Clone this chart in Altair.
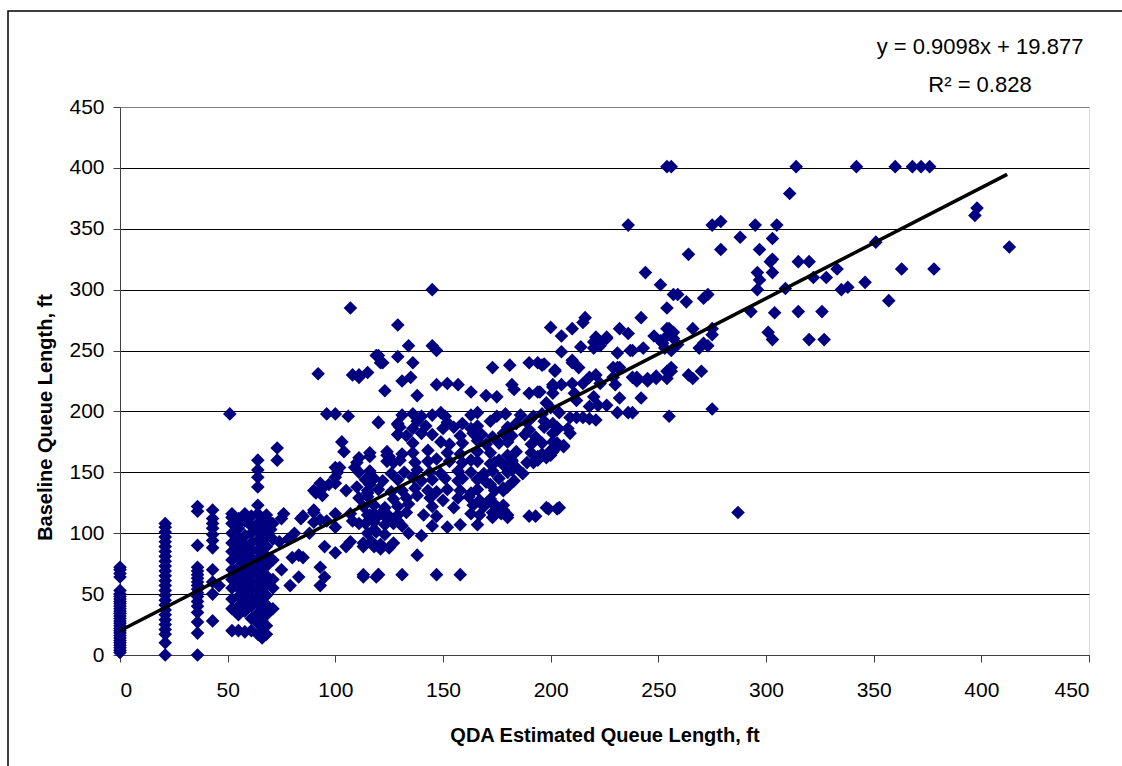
import altair as alt
import pandas as pd

# ---- data: QDA estimate (x) vs baseline queue length (y), feet ----

# vertical stacks: (QDA value, list of baseline values)
stacks = [
    (0, [2, 4, 6, 8, 10, 12, 14, 16, 18, 20, 22, 24, 26, 28, 30, 32, 34, 36, 38, 40,
         42, 44, 46, 48, 50, 53, 64, 67, 70, 72]),
    (21, [0, 10, 17, 21, 25, 29, 33, 37, 41, 45, 49, 53, 57, 61, 65, 69, 73, 77, 81,
          85, 89, 93, 97, 101, 105, 108]),
    (36, [0, 18, 27, 35, 40, 44, 48, 51, 54, 57, 60, 63, 66, 69, 72, 90, 118, 122]),
    (43, [28, 50, 60, 70, 88, 94, 99, 104, 108, 112, 119]),
    (52, [20, 38, 46, 55, 62, 70, 78, 85, 92, 100, 108, 113]),
    (55, [20, 33, 40, 48, 55, 60, 66, 72, 80, 88, 95, 104, 112]),
    (58, [19, 36, 44, 52, 58, 64, 70, 76, 84, 90, 98, 110, 116]),
    (61, [20, 30, 40, 47, 54, 60, 66, 72, 80, 86, 92, 100, 106, 114]),
    (64, [17, 26, 34, 42, 48, 54, 60, 66, 72, 78, 86, 94, 102, 108, 116, 123, 138,
          146, 152, 160]),
    (66, [14, 19, 28, 36, 44, 50, 56, 62, 68, 76, 84, 92, 100, 110]),
    (68, [17, 24, 33, 41, 49, 57, 65, 73, 81, 89, 97, 105, 112]),
    (71, [38, 55, 62, 78, 95, 108]),
]

low_pairs = [
    (46, 57), (51, 198), (73, 160), (73, 170), (74, 93), (75, 70), (75, 112), (79, 57),
    (83, 64), (93, 57), (95, 64), (93, 72), (80, 80), (83, 82), (85, 80), (81, 100),
    (88, 100), (90, 109), (93, 111), (94, 137), (97, 140), (90, 119), (84, 112),
    (100, 141), (95, 89), (100, 84), (100, 116), (105, 135), (105, 89), (107, 93),
    (113, 64), (107, 116), (111, 108), (118, 116), (118, 103), (115, 133), (119, 64),
    (110, 138), (116, 140), (113, 89), (118, 89), (85, 114), (90, 135), (93, 141),
    (94, 131), (100, 105), (100, 146), (100, 154), (103, 175), (104, 167), (96, 198),
    (100, 198), (106, 196), (102, 154), (109, 154), (111, 162), (116, 163), (120, 191),
    (120, 66), (125, 163), (127, 158), (129, 189), (129, 181), (92, 231), (108, 230),
    (111, 230), (115, 232), (119, 246), (122, 240), (129, 245), (123, 217), (91, 133),
    (101, 150), (110, 158), (124, 164), (107, 285), (96, 110), (108, 110), (115, 115),
    (119, 113), (124, 112), (129, 110), (52, 116), (56, 110), (59, 113), (68, 115),
    (90, 117), (76, 116), (70, 103), (78, 95),
]

dense_pairs = [
    (131, 197), (136, 198), (140, 196), (145, 197), (149, 199), (151, 196), (163, 197),
    (166, 199), (175, 196), (179, 198), (186, 197), (192, 196), (196, 198),
    (120, 191), (129, 190), (138, 192), (152, 191), (159, 190), (172, 192), (184, 190),
    (189, 191), (197, 192), (201, 190),
    (130, 187), (136, 186), (142, 188), (150, 186), (155, 187), (163, 186), (166, 188),
    (180, 187), (190, 185), (203, 187),
    (129, 181), (133, 180), (140, 182), (145, 181), (158, 180), (164, 182), (168, 181),
    (173, 179), (178, 182), (182, 180), (188, 181), (193, 179), (201, 182),
    (136, 174), (149, 175), (153, 173), (159, 174), (166, 176), (170, 173), (176, 174),
    (180, 175), (191, 173), (196, 174),
    (116, 166), (124, 167), (131, 165), (136, 166), (143, 168), (152, 166), (158, 165),
    (166, 167), (172, 166), (180, 164), (184, 167), (191, 166), (196, 165), (201, 167),
    (124, 159), (130, 160), (137, 158), (143, 159), (147, 161), (153, 159), (159, 158),
    (163, 160), (166, 159), (172, 157), (176, 160), (182, 159), (189, 158), (194, 160),
    (111, 150), (116, 151), (126, 149), (132, 150), (138, 152), (144, 150), (149, 149),
    (157, 151), (163, 150), (169, 148), (173, 151), (180, 150), (187, 149),
    (114, 144), (118, 145), (122, 143), (129, 144), (136, 146), (140, 143), (145, 144),
    (151, 145), (157, 143), (159, 145), (166, 144), (170, 142), (176, 145), (183, 143),
    (115, 135), (120, 136), (126, 134), (131, 135), (137, 137), (143, 135), (147, 134),
    (152, 136), (158, 135), (163, 133), (166, 136), (178, 135),
    (111, 129), (115, 130), (127, 128), (133, 129), (138, 131), (144, 129), (150, 127),
    (157, 129), (162, 130), (172, 128),
    (113, 122), (118, 123), (123, 121), (129, 122), (134, 124), (145, 122), (155, 121),
    (164, 123), (169, 122), (175, 120), (178, 123),
    (116, 115), (121, 116), (125, 114), (129, 115), (133, 117), (141, 115), (147, 114),
    (163, 116), (167, 115), (173, 113), (177, 116),
    (114, 108), (118, 109), (123, 107), (127, 108), (131, 106),
    (115, 100), (119, 101), (123, 99), (134, 100),
    (113, 92), (117, 93), (121, 91), (127, 92), (121, 87), (125, 88),
    (138, 82), (113, 66), (120, 66), (131, 66), (147, 66), (158, 66), (140, 98),
    (145, 106), (152, 105), (158, 107), (166, 107), (177, 119), (180, 113), (190, 114),
    (193, 114), (199, 120), (203, 120),
    (174, 158), (178, 156), (182, 152), (187, 149), (192, 158), (194, 163), (200, 164),
    (203, 171), (206, 172), (172, 140), (174, 135), (178, 137), (167, 127), (172, 126),
    (175, 122), (173, 117), (178, 119), (180, 115), (184, 154), (182, 160), (169, 149),
    (180, 138),
]

upper_pairs = [
    (145, 300), (129, 271), (134, 254), (145, 254), (147, 250), (120, 246), (121, 240),
    (136, 240), (111, 228), (131, 225), (135, 228), (138, 213), (147, 222), (152, 223),
    (157, 222), (163, 216), (170, 213), (175, 212), (173, 236), (181, 238), (190, 240),
    (194, 240), (196, 238), (182, 222), (183, 218), (190, 215), (194, 216), (200, 269),
    (202, 234), (201, 220),
    (236, 353), (275, 353), (279, 356), (264, 329), (279, 333), (288, 343), (244, 314),
    (251, 304), (257, 296), (259, 296), (263, 290), (271, 293), (273, 296), (254, 285),
    (242, 277), (205, 262), (210, 268), (215, 273), (216, 277), (232, 268), (236, 264),
    (248, 262), (254, 268), (256, 263), (266, 268), (275, 268), (275, 263), (221, 261),
    (223, 257), (226, 261), (214, 253), (220, 252), (223, 254), (231, 248), (237, 250),
    (243, 252), (259, 255), (269, 252), (271, 256), (273, 254), (197, 239), (202, 233),
    (210, 240), (231, 236), (232, 236), (238, 228), (240, 228), (245, 227), (249, 227),
    (254, 227), (256, 233), (264, 230), (266, 227), (270, 233), (201, 222), (205, 222),
    (210, 223), (215, 223), (218, 228), (221, 230), (223, 223), (229, 228), (230, 222),
    (195, 216), (201, 215), (211, 215), (232, 211), (242, 211), (220, 212), (198, 207),
    (200, 203), (212, 209), (218, 204), (222, 205), (226, 205), (231, 199), (236, 199),
    (238, 199), (255, 196), (275, 202), (204, 199), (209, 195), (212, 195), (215, 195),
    (218, 194), (221, 193), (197, 187), (203, 185), (208, 186), (209, 182), (201, 175),
    (203, 174), (206, 171), (200, 168), (198, 162), (198, 121), (204, 121), (287, 117),
    (205, 249), (210, 242), (213, 236), (220, 257), (222, 259), (226, 260), (238, 250),
    (229, 236), (249, 229), (245, 225), (240, 225), (255, 234), (256, 236),
]

high_pairs = [
    (254, 401), (256, 401), (314, 401), (342, 401), (360, 401), (368, 401), (372, 401),
    (376, 401), (311, 379), (295, 353), (305, 353), (303, 342), (297, 333), (302, 323),
    (303, 325), (296, 314), (297, 308), (296, 300), (303, 314), (315, 323), (320, 323),
    (322, 310), (328, 310), (333, 317), (309, 301), (335, 300), (338, 302), (346, 306),
    (351, 339), (357, 291), (363, 317), (378, 317), (397, 361), (398, 367), (413, 335),
    (293, 282), (304, 281), (315, 282), (326, 282), (301, 265), (303, 259), (320, 259),
    (327, 259), (252, 256), (254, 262), (256, 250), (255, 268), (257, 265), (254, 233),
    (251, 258), (253, 252), (257, 260),
]

# least-squares fit reported on the chart
SLOPE = 0.9098
INTERCEPT = 19.877
R2 = 0.828
FIT_RANGE = [0, 412]

rows = [(x, y) for x, ys in stacks for y in ys]
rows += low_pairs + dense_pairs + upper_pairs + high_pairs
df = pd.DataFrame(rows, columns=["qda", "baseline"])

trend = pd.DataFrame({"qda": FIT_RANGE})
trend["baseline"] = SLOPE * trend["qda"] + INTERCEPT

FONT = "Liberation Sans, Arial, sans-serif"
NAVY = "#000080"

W, H = 969, 548
ticks = list(range(0, 451, 50))
xscale = alt.Scale(domain=[0, 450], nice=False, zero=True)
yscale = alt.Scale(domain=[0, 450], nice=False, zero=True)

x_axis = alt.Axis(
    values=ticks, grid=False, tickSize=7, tickColor="#404040", domainColor="#404040",
    labelFont=FONT, labelFontSize=21, labelColor="black", labelPadding=17,
    title="QDA Estimated Queue Length, ft", titleFont=FONT, titleFontSize=20,
    titleFontWeight="bold", titleColor="black", titleX=W / 2, titleY=80,
    titleAlign="center", titleBaseline="middle",
)
y_axis = alt.Axis(
    values=ticks, grid=True,
    gridColor=alt.condition("datum.value == 450", alt.value("#808080"), alt.value("black")),
    gridWidth=1, tickSize=7, tickColor="#404040", domainColor="#404040",
    labelFont=FONT, labelFontSize=21, labelColor="black", labelPadding=9,
    title="Baseline Queue Length, ft", titleFont=FONT, titleFontSize=20,
    titleFontWeight="bold", titleColor="black", titleX=-75, titleY=H / 2 + 36,
    titleAngle=270, titleAlign="center", titleBaseline="middle",
)

frame = alt.Chart(pd.DataFrame({"k": [0]})).mark_rect(
    fillOpacity=0, stroke="black", strokeWidth=1.5
).encode(
    x=alt.value(-112), x2=alt.value(1100), y=alt.value(-96), y2=alt.value(760)
)

points = alt.Chart(df).mark_point(
    shape="diamond", filled=True, size=185, color=NAVY, opacity=1, strokeWidth=0
).encode(
    x=alt.X("qda:Q", scale=xscale, axis=x_axis),
    y=alt.Y("baseline:Q", scale=yscale, axis=y_axis),
)

fit_line = alt.Chart(trend).mark_line(color="black", strokeWidth=3.5).encode(
    x=alt.X("qda:Q", scale=xscale),
    y=alt.Y("baseline:Q", scale=yscale),
)

eq_df = pd.DataFrame({
    "label": [f"y = {SLOPE}x + {INTERCEPT}", f"R\u00b2 = {R2}"],
    "ypx": [-60, -22],
})
equation = alt.Chart(eq_df).mark_text(
    font=FONT, fontSize=22, color="black", align="center", baseline="middle"
).encode(
    x=alt.value(860),
    y=alt.Y("ypx:Q", scale=None),
    text="label:N",
)

chart = alt.layer(frame, points, fit_line, equation).properties(
    width=W, height=H,
    autosize=alt.AutoSizeParams(type="none"),
    padding={"left": 120, "top": 107, "right": 33, "bottom": 111},
).configure_view(stroke="#808080", strokeWidth=1.5).configure(background="white")

chart.save("out.html", embed_options={"renderer": "svg", "actions": False})
